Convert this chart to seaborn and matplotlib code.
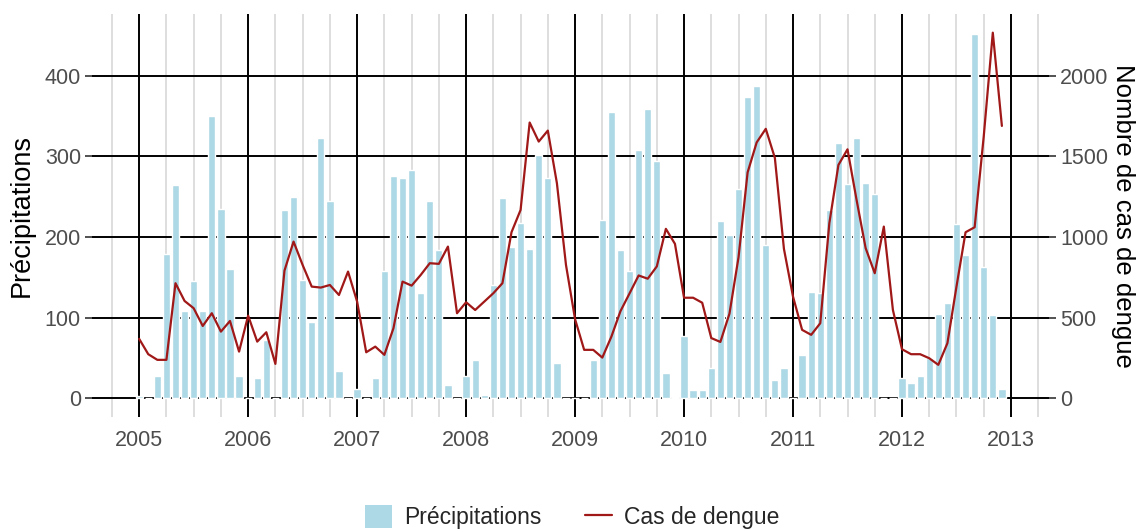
import numpy as np
import pandas as pd
import matplotlib
matplotlib.use("Agg")
import matplotlib.pyplot as plt
import seaborn as sns
from matplotlib.patches import Patch
from matplotlib.lines import Line2D

years = [2005, 2006, 2007, 2008, 2009, 2010, 2011, 2012]
months = list(range(1, 13))

# monthly rainfall (mm), one row per year
precip = [
    [3, 0, 28, 179, 264, 108, 145, 108, 350, 235, 160, 27],
    [0, 25, 72, 0, 233, 249, 147, 94, 323, 245, 34, 0],
    [12, 0, 25, 158, 276, 273, 283, 131, 245, 184, 17, 0],
    [27, 48, 4, 140, 248, 188, 217, 185, 302, 273, 44, 0],
    [0, 0, 48, 221, 355, 184, 158, 308, 358, 294, 31, 2],
    [77, 10, 10, 38, 220, 202, 260, 373, 387, 190, 22, 38],
    [0, 54, 132, 131, 233, 316, 266, 323, 267, 253, 0, 0],
    [25, 19, 27, 50, 105, 118, 216, 177, 451, 163, 103, 11],
]

# monthly dengue cases
dengue = [
    [368, 273, 238, 238, 713, 603, 558, 448, 527, 413, 479, 289],
    [512, 351, 409, 213, 791, 971, 826, 692, 686, 702, 640, 785],
    [599, 285, 320, 269, 434, 723, 698, 764, 837, 833, 940, 527],
    [595, 547, 599, 651, 713, 1029, 1167, 1709, 1591, 1659, 1333, 826],
    [490, 300, 300, 252, 382, 540, 650, 761, 741, 817, 1050, 957],
    [623, 623, 592, 373, 349, 524, 874, 1400, 1586, 1670, 1490, 926],
    [630, 424, 393, 465, 1085, 1446, 1543, 1229, 930, 775, 1064, 547],
    [304, 273, 273, 248, 207, 341, 692, 1029, 1060, 1622, 2266, 1688],
]

df = pd.DataFrame({
    "year": np.repeat(years, 12),
    "month": months * len(years),
    "precip": np.ravel(precip),
    "dengue": np.ravel(dengue),
})
df["t"] = df["year"] + (df["month"] - 1) / 12

sns.set_theme(style="white")
plt.rcParams["font.family"] = ["Liberation Sans", "DejaVu Sans"]

fig, ax = plt.subplots(figsize=(11.37, 5.32), dpi=100)
fig.subplots_adjust(left=0.081, right=0.9226, top=0.973, bottom=0.217)

bar_color = "#ADD8E6"
line_color = "#A01818"

ax.bar(df["t"], df["precip"], width=0.8 / 12, color=bar_color, zorder=2)

ymin, ymax = -22.7, 475.9
ax.set_ylim(ymin, ymax)
ax.set_xlim(2004.568, 2013.349)

ax.set_xticks(range(2005, 2014))
quarters = [q for q in np.arange(2004.75, 2013.3, 0.25) if abs(q - round(q)) > 1e-6]
ax.set_xticks(quarters, minor=True)
ax.set_yticks([0, 100, 200, 300, 400])

ax.grid(which="major", color="black", linewidth=1.4)
ax.grid(which="minor", axis="x", color="#dedede", linewidth=1.4)
ax.set_axisbelow(True)

ax.tick_params(axis="both", which="major", length=5, width=1.2, color="#333333",
               labelsize=15.5, labelcolor="#4d4d4d", pad=3)
ax.tick_params(axis="x", which="minor", length=0)
ax.tick_params(axis="x", which="major", pad=5)
for s in ax.spines.values():
    s.set_visible(False)

ax.set_ylabel("Précipitations", fontsize=19.5, color="black", labelpad=7)

# dengue cases on the right axis (5x the left scale)
ax2 = ax.twinx()
sns.lineplot(data=df, x="t", y="dengue", ax=ax2, color=line_color, linewidth=1.6)
ax2.set_ylim(ymin * 5, ymax * 5)
ax2.set_yticks([0, 500, 1000, 1500, 2000])
ax2.tick_params(axis="y", length=5, width=1.2, color="#333333",
                labelsize=15.5, labelcolor="#4d4d4d", pad=3)
ax2.set_xlabel("")
ax2.set_ylabel("Nombre de cas de dengue", fontsize=18.5, color="black",
               rotation=-90, va="center", ha="center")
ax2.yaxis.set_label_coords(1.077, 0.5)
for s in ax2.spines.values():
    s.set_visible(False)
ax2.grid(False)

handles = [
    Patch(facecolor=bar_color, edgecolor="none"),
    Line2D([0], [0], color=line_color, linewidth=1.6),
]
fig.legend(handles, ["Précipitations", "Cas de dengue"], loc="center",
           bbox_to_anchor=(0.503, 0.028), ncol=2, frameon=False, fontsize=16.5,
           handlelength=1.2, handleheight=1.2, columnspacing=1.9, handletextpad=0.5)

plt.savefig("out.png", dpi=100)
